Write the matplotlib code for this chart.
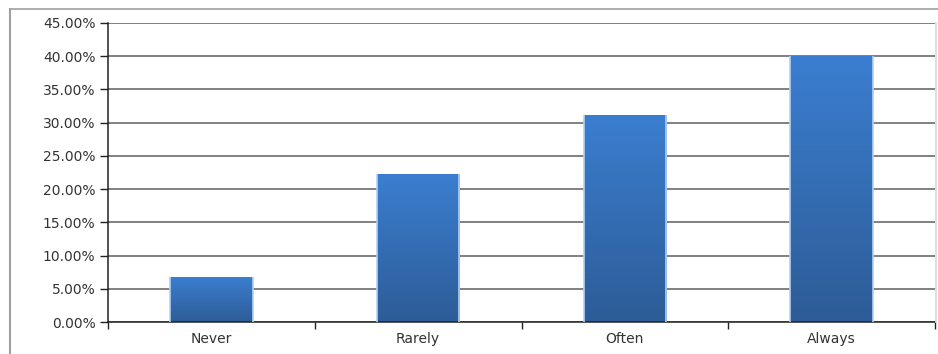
import matplotlib
matplotlib.use("Agg")
import matplotlib.pyplot as plt
import numpy as np
from matplotlib.colors import LinearSegmentedColormap
from matplotlib.ticker import FuncFormatter, MultipleLocator
from matplotlib.lines import Line2D

categories = ["Never", "Rarely", "Often", "Always"]
shares = [6.7, 22.2, 31.1, 40.0]   # percent of responses

plt.rcParams['font.family'] = ['DejaVu Sans']

fig = plt.figure(figsize=(9.38, 3.54), dpi=100)
ax = fig.add_axes([108 / 938, 1 - 322 / 354, 827 / 938, 299 / 354])

x = np.arange(len(categories))
bars = ax.bar(x, shares, width=0.4, color='none', edgecolor='none', zorder=3)

# vertical blue gradient inside each bar, with a pale halo on the sides
grad = LinearSegmentedColormap.from_list('barfill', ['#2d5c97', '#3b7ed0'])
ramp = np.linspace(0, 1, 256).reshape(-1, 1)
for b in bars:
    x0, y0 = b.get_x(), b.get_y()
    w, h = b.get_width(), b.get_height()
    im = ax.imshow(ramp, cmap=grad, origin='lower', aspect='auto',
                   extent=(x0, x0 + w, y0, y0 + h), zorder=2)
    im.set_clip_path(b)
    for xe in (x0, x0 + w):
        ax.plot([xe, xe], [y0, y0 + h], color='#b3d1f3', lw=1.2, zorder=3,
                solid_capstyle='butt')

ax.set_xlim(-0.5, len(categories) - 0.5)
ax.set_ylim(0, 45)

ax.yaxis.set_major_locator(MultipleLocator(5))
ax.yaxis.set_major_formatter(FuncFormatter(lambda v, p: f"{v:.2f}%"))
ax.grid(axis='y', color='#5e5e5e', linewidth=1.1, zorder=0)
ax.set_axisbelow(True)

ax.set_xticks(x)
ax.set_xticklabels(categories)
ax.set_xticks(np.arange(len(categories) + 1) - 0.5, minor=True)
ax.tick_params(axis='x', which='major', length=0, pad=7, labelsize=10,
               labelcolor='#333333')
ax.tick_params(axis='x', which='minor', length=5, width=1, color='#222222',
               direction='out')
ax.tick_params(axis='y', length=6, width=1, color='#222222', pad=3,
               labelsize=10, labelcolor='#333333')

for side in ['top', 'right']:
    ax.spines[side].set_visible(False)
ax.spines['left'].set_color('#222222')
ax.spines['bottom'].set_color('#222222')
ax.spines['left'].set_linewidth(1.1)
ax.spines['bottom'].set_linewidth(1.1)

# outer chart frame
fig.add_artist(Line2D([10 / 938, 10 / 938], [0, 1 - 9 / 354],
                      transform=fig.transFigure, color='#a0a0a0', lw=1.5))
fig.add_artist(Line2D([10 / 938, 1], [1 - 9 / 354, 1 - 9 / 354],
                      transform=fig.transFigure, color='#a0a0a0', lw=1.2))
fig.add_artist(Line2D([936 / 938, 936 / 938], [1 - 322 / 354, 1 - 23 / 354],
                      transform=fig.transFigure, color='#d8d8d8', lw=1.2))

fig.savefig("out.png", dpi=100)
